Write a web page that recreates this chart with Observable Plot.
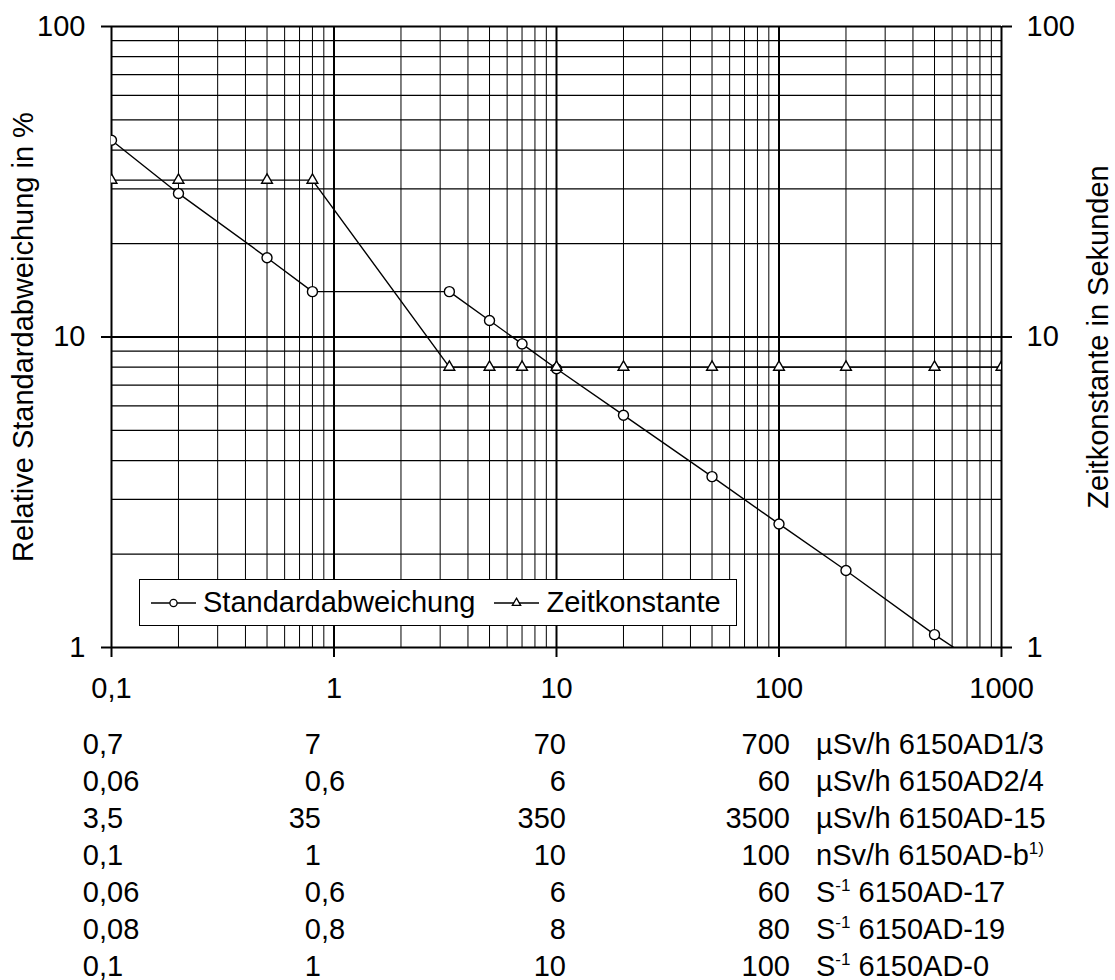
<!DOCTYPE html>
<html><head><meta charset="utf-8">
<script src="https://cdn.jsdelivr.net/npm/d3@7"></script>
<script src="https://cdn.jsdelivr.net/npm/@observablehq/plot@0.6"></script>
<style>
html,body{margin:0;padding:0;background:#fff;width:1115px;height:980px;overflow:hidden;}
#wrap{position:relative;width:1115px;height:980px;font-family:"Liberation Sans",Arial,sans-serif;color:#000;}
#chart{position:absolute;left:0;top:0;}
#legend{position:absolute;left:139px;top:579px;width:596px;height:45px;border:1px solid #000;background:#fff;display:flex;align-items:center;font-size:29px;box-sizing:content-box;}
#legend .item{display:flex;align-items:center;}
#legend svg{display:block;}
.cell{position:absolute;font-size:29px;line-height:26px;white-space:nowrap;}
sup{font-size:17px;line-height:17px;vertical-align:baseline;position:relative;top:-11px;}
</style></head><body><div id="wrap"><div id="chart"></div><div id="legend"></div><div id="table"></div></div>
<script>
// ---- data ----
const xValues   = [0.1, 0.2, 0.5, 0.8, 3.3, 5, 7, 10, 20, 50, 100, 200, 500, 1000];
const stdValues = [43, 29, 18, 14, 14, 11.3, 9.5, 7.9, 5.6, 3.55, 2.5, 1.77, 1.1, 0.79];
const tauValues = [32, 32, 32, 32, 8, 8, 8, 8, 8, 8, 8, 8, 8, 8];
const seriesNames = ["Standardabweichung", "Zeitkonstante"];
const xTicks = [0.1, 1, 10, 100, 1000];
const yTicks = [1, 10, 100];
const yTitleLeft = "Relative Standardabweichung in %";
const yTitleRight = "Zeitkonstante in Sekunden";

const tableCol1 = ["0,7", "0,06", "3,5", "0,1", "0,06", "0,08", "0,1"];
const tableCol2 = ["7", "0,6", "35", "1", "0,6", "0,8", "1"];
const tableCol3 = ["70", "6", "350", "10", "6", "8", "10"];
const tableCol4 = ["700", "60", "3500", "100", "60", "80", "100"];
const unitBase  = ["µSv/h", "µSv/h", "µSv/h", "nSv/h", "S", "S", "S"];
const unitSup   = ["", "", "", "", "-1", "-1", "-1"];
const deviceName = ["6150AD1/3", "6150AD2/4", "6150AD-15", "6150AD-b", "6150AD-17", "6150AD-19", "6150AD-0"];
const deviceSup  = ["", "", "", "1)", "", "", ""];

// ---- build ----
const data = xValues.map((x, i) => ({x, std: stdValues[i], tau: tauValues[i]}));
const fmt = d => String(d).replace(".", ",");
const xGridMinor = d3.range(-1, 3).flatMap(k => d3.range(2, 10).map(m => m * Math.pow(10, k)));
const xGridMajor = [0.1, 1, 10, 100, 1000];
const yGridMinor = [0, 1].flatMap(k => d3.range(2, 10).map(m => m * Math.pow(10, k)));
const yGridMajor = [1, 10, 100];
const font = "Liberation Sans, Arial, sans-serif";

const chart = Plot.plot({
  width: 1115, height: 720,
  marginTop: 26, marginLeft: 111, marginRight: 114, marginBottom: 73,
  style: {fontFamily: font, fontSize: "29px", color: "#000", background: "transparent", overflow: "visible"},
  x: {type: "log", domain: [0.1, 1000]},
  y: {type: "log", domain: [1, 100]},
  marks: [
    Plot.ruleX(xGridMinor, {stroke: "#000", strokeWidth: 1}),
    Plot.ruleY(yGridMinor, {stroke: "#000", strokeWidth: 1.3}),
    Plot.ruleX(xGridMajor, {stroke: "#000", strokeWidth: 2}),
    Plot.ruleY(yGridMajor, {stroke: "#000", strokeWidth: 2}),
    Plot.axisX({ticks: xTicks, tickFormat: fmt, tickSize: 10, tickPadding: 20, label: null, fontSize: 29, strokeWidth: 2}),
    Plot.axisY({anchor: "left", ticks: yTicks, tickFormat: fmt, tickSize: 10, tickPadding: 16, fontSize: 29, strokeWidth: 2,
      label: yTitleLeft, labelAnchor: "center", labelOffset: 99, labelArrow: "none"}),
    Plot.axisY({anchor: "right", ticks: yTicks, tickFormat: fmt, tickSize: 10, tickPadding: 15, fontSize: 29, strokeWidth: 2,
      label: yTitleRight, labelAnchor: "center", labelOffset: 106, labelArrow: "none"}),
    Plot.line(data, {x: "x", y: "std", stroke: "#000", strokeWidth: 1.4, clip: true}),
    Plot.line(data, {x: "x", y: "tau", stroke: "#000", strokeWidth: 1.4, clip: true}),
    Plot.dot(data, {x: "x", y: "std", r: 5, fill: "#fff", stroke: "#000", strokeWidth: 1.4, clip: true}),
    Plot.dot(data, {x: "x", y: "tau", r: 4, symbol: "triangle", fill: "#fff", stroke: "#000", strokeWidth: 1.4, clip: true})
  ]
});
document.getElementById("chart").appendChild(chart);

// legend
function legendSymbol(kind) {
  const ns = "http://www.w3.org/2000/svg";
  const s = document.createElementNS(ns, "svg");
  s.setAttribute("width", 45); s.setAttribute("height", 20);
  s.innerHTML = `<line x1="0" x2="45" y1="10" y2="10" stroke="#000" stroke-width="1.4"/>` +
    (kind === 0
      ? `<circle cx="22.5" cy="10" r="3.6" fill="#fff" stroke="#000" stroke-width="1.3"/>`
      : `<path d="${d3.symbol(d3.symbolTriangle, 30)()}" transform="translate(22.5,10)" fill="#fff" stroke="#000" stroke-width="1.3"/>`);
  return s;
}
const legend = document.getElementById("legend");
seriesNames.forEach((name, i) => {
  const item = document.createElement("div");
  item.className = "item";
  item.style.marginLeft = i === 0 ? "11px" : "19px";
  item.appendChild(legendSymbol(i));
  const t = document.createElement("span");
  t.textContent = name; t.style.marginLeft = "7px";
  item.appendChild(t);
  legend.appendChild(item);
});

// table below the chart (decimal-aligned columns)
const table = document.getElementById("table");
const rowTop = 731, rowStep = 37;
const anchors = [99, 321, 566, 790];
const cols = [tableCol1, tableCol2, tableCol3, tableCol4];
function addCell(html, top, left, right) {
  const el = document.createElement("div");
  el.className = "cell";
  el.innerHTML = html;
  el.style.top = top + "px";
  if (left != null) el.style.left = left + "px";
  if (right != null) { el.style.right = (1115 - right) + "px"; el.style.textAlign = "right"; }
  table.appendChild(el);
}
for (let r = 0; r < 7; r++) {
  const top = rowTop + r * rowStep;
  cols.forEach((col, c) => {
    const [ip, fp] = col[r].split(",");
    addCell(ip, top, null, anchors[c]);
    if (fp !== undefined) addCell("," + fp, top, anchors[c], null);
  });
  const unit = unitBase[r] + (unitSup[r] ? `<sup>${unitSup[r]}</sup>` : "") + " " + deviceName[r] + (deviceSup[r] ? `<sup>${deviceSup[r]}</sup>` : "");
  addCell(unit, top, 816, null);
}
</script></body></html>
